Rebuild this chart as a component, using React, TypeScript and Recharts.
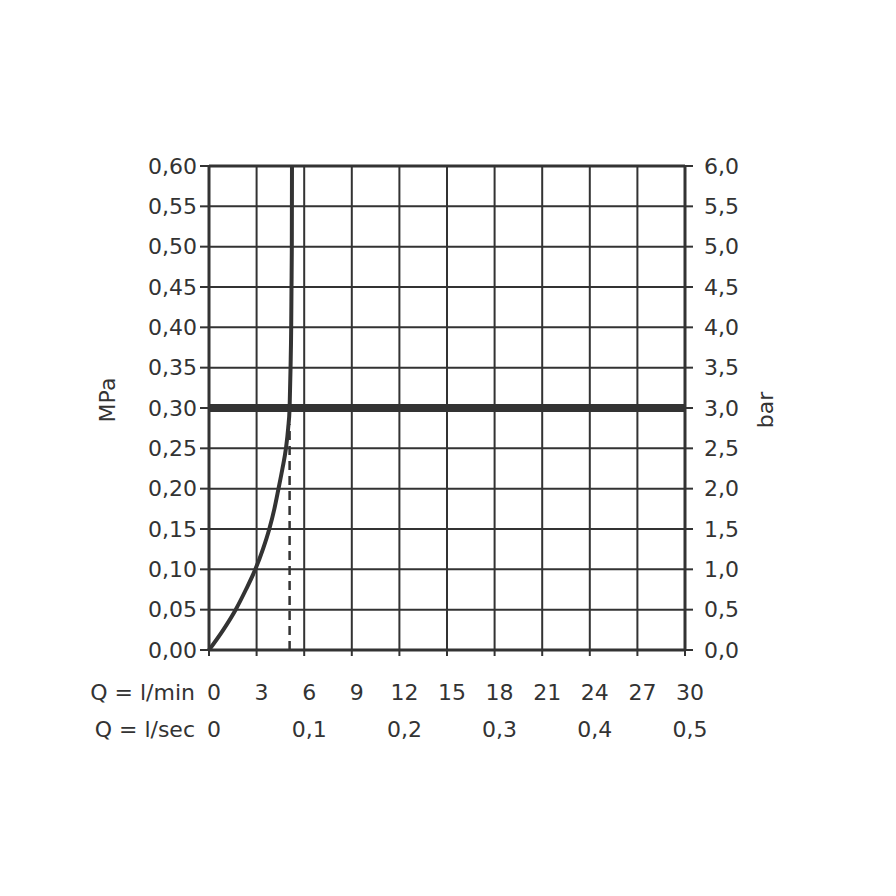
import React from "react";
import { LineChart, Line, XAxis, YAxis, CartesianGrid, ReferenceLine } from "recharts";

// Flow curve (x = l/min, y = MPa)
const flowLmin = [0, 0.9, 1.68, 2.33, 2.92, 3.4, 3.8, 4.12, 4.38, 4.63, 4.85, 4.99, 5.08, 5.14, 5.18, 5.2, 5.22, 5.23];
const pressureMPa = [0, 0.025, 0.05, 0.075, 0.1, 0.125, 0.15, 0.175, 0.2, 0.225, 0.25, 0.275, 0.3, 0.35, 0.4, 0.45, 0.5, 0.6];

const xTicks = [0, 3, 6, 9, 12, 15, 18, 21, 24, 27, 30];
const secTickAt = [0, 6, 12, 18, 24, 30];
const secTickLabels = ["0", "0,1", "0,2", "0,3", "0,4", "0,5"];
const mpaTicks = [0, 0.05, 0.1, 0.15, 0.2, 0.25, 0.3, 0.35, 0.4, 0.45, 0.5, 0.55, 0.6];
const barTicks = [0, 0.5, 1, 1.5, 2, 2.5, 3, 3.5, 4, 4.5, 5, 5.5, 6];

const operatingPressure = 0.3;
const operatingFlow = 5.08;
const dashedTop = 0.28;

const data = flowLmin.map((q, i) => ({ q, p: pressureMPa[i], bar: pressureMPa[i] * 10 }));

const INK = "#333333";
const FONT = "DejaVu Sans, sans-serif";
const FS = 22;
const PLOT_BOTTOM = 642;
const PLOT_LEFT = 201;
const PLOT_RIGHT = 677;
const PLOT_MID_Y = 400;

const XTick = (props: any) => {
  const { x, payload } = props;
  const v = payload.value as number;
  const si = secTickAt.indexOf(v);
  return (
    <g>
      <text x={x + 5} y={PLOT_BOTTOM + 50} textAnchor="middle" fill={INK} fontSize={FS} fontFamily={FONT}>
        {String(v)}
      </text>
      {si >= 0 && (
        <text x={x + 5} y={PLOT_BOTTOM + 87} textAnchor="middle" fill={INK} fontSize={FS} fontFamily={FONT}>
          {secTickLabels[si]}
        </text>
      )}
      {v === 0 && (
        <>
          <text x={x - 14} y={PLOT_BOTTOM + 50} textAnchor="end" fill={INK} fontSize={FS} fontFamily={FONT}>
            Q = l/min
          </text>
          <text x={x - 14} y={PLOT_BOTTOM + 87} textAnchor="end" fill={INK} fontSize={FS} fontFamily={FONT}>
            Q = l/sec
          </text>
        </>
      )}
    </g>
  );
};

const RotLabel = (cx: number, cy: number, text: string) => () =>
  (
    <text
      x={cx}
      y={cy}
      transform={`rotate(-90, ${cx}, ${cy})`}
      textAnchor="middle"
      dominantBaseline="central"
      fill={INK}
      fontSize={FS}
      fontFamily={FONT}
    >
      {text}
    </text>
  );

const fmt2 = (v: number) => v.toFixed(2).replace(".", ",");
const fmt1 = (v: number) => v.toFixed(1).replace(".", ",");

export default function App() {
  return (
    <div style={{ width: 880, height: 880 }}>
      <LineChart
        width={880}
        height={880}
        data={data}
        margin={{ top: 158, right: 123, bottom: 208, left: 121 }}
      >
        <CartesianGrid yAxisId="left" stroke={INK} strokeWidth={2} horizontalValues={mpaTicks} verticalValues={xTicks} />
        <XAxis
          dataKey="q"
          type="number"
          domain={[0, 30]}
          ticks={xTicks}
          height={30}
          axisLine={{ stroke: INK, strokeWidth: 3 }}
          tickLine={{ stroke: INK, strokeWidth: 2 }}
          tickSize={6}
          tick={<XTick />}
          interval={0}
        />
        <YAxis
          yAxisId="left"
          orientation="left"
          type="number"
          domain={[0, 0.6]}
          ticks={mpaTicks}
          width={80}
          interval={0}
          tickFormatter={fmt2}
          axisLine={{ stroke: INK, strokeWidth: 3 }}
          tickLine={{ stroke: INK, strokeWidth: 2 }}
          tickSize={9}
          tickMargin={3}
          tick={{ fill: INK, fontSize: FS, fontFamily: FONT }}
          label={{ content: RotLabel(PLOT_LEFT - 102, PLOT_MID_Y - 8, "MPa") }}
        />
        <YAxis
          yAxisId="right"
          orientation="right"
          type="number"
          domain={[0, 6]}
          ticks={barTicks}
          width={80}
          interval={0}
          tickFormatter={fmt1}
          axisLine={{ stroke: INK, strokeWidth: 3 }}
          tickLine={{ stroke: INK, strokeWidth: 2 }}
          tickSize={8}
          tickMargin={11}
          tick={{ fill: INK, fontSize: FS, fontFamily: FONT }}
          label={{ content: RotLabel(PLOT_RIGHT + 80, PLOT_MID_Y + 2, "bar") }}
        />
        <ReferenceLine yAxisId="left" y={0.6} stroke={INK} strokeWidth={3} />
        <ReferenceLine yAxisId="left" y={operatingPressure} stroke={INK} strokeWidth={8} />
        <ReferenceLine
          yAxisId="left"
          segment={[
            { x: operatingFlow, y: 0 },
            { x: operatingFlow, y: dashedTop },
          ]}
          stroke={INK}
          strokeWidth={2.5}
          strokeDasharray="9 6"
        />
        <Line
          yAxisId="right"
          dataKey="bar"
          type="monotone"
          stroke="none"
          strokeWidth={0}
          dot={false}
          activeDot={false}
          isAnimationActive={false}
        />
        <Line
          yAxisId="left"
          dataKey="p"
          type="monotone"
          stroke={INK}
          strokeWidth={4}
          dot={false}
          isAnimationActive={false}
        />
      </LineChart>
    </div>
  );
}
